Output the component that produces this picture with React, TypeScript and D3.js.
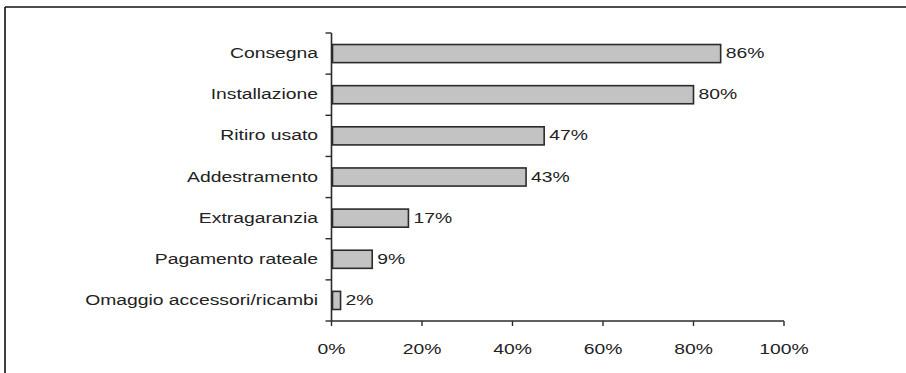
import React from "react";
import * as d3 from "d3";

const categories = [
  "Consegna",
  "Installazione",
  "Ritiro usato",
  "Addestramento",
  "Extragaranzia",
  "Pagamento rateale",
  "Omaggio accessori/ricambi",
];
const values = [86, 80, 47, 43, 17, 9, 2];
const xTicks = [0, 20, 40, 60, 80, 100];

const W = 906;
const H = 373;
const SX = 1.38;
const FONT = "'Liberation Sans', Arial, Helvetica, sans-serif";
const FS = 14;

function T({ x, y, anchor, children }: { x: number; y: number; anchor: string; children: React.ReactNode }) {
  return (
    <text
      transform={`translate(${x},${y}) scale(${SX},1)`}
      textAnchor={anchor}
      dominantBaseline="central"
      fontFamily={FONT}
      fontSize={FS}
      fill="#222"
    >
      {children}
    </text>
  );
}

export default function App() {
  const x = d3.scaleLinear().domain([0, 100]).range([331.5, 784]);
  const y = d3
    .scaleBand<string>()
    .domain(categories)
    .range([33, 321])
    .paddingInner(0.56)
    .paddingOuter(0.28);
  const step = y.step();
  const y0 = 33;
  const y1 = 321;
  const boundaries = d3.range(categories.length + 1).map((i) => y0 + i * step);

  return (
    <svg
      width={W}
      height={H}
      style={{ position: "absolute", left: 0, top: 0, background: "#fff" }}
    >
      {/* frame */}
      <line x1={5} y1={7} x2={W} y2={7} stroke="#111" strokeWidth={1.6} />
      <line x1={5} y1={7} x2={5} y2={H} stroke="#111" strokeWidth={1.6} />

      {/* bars */}
      {categories.map((c, i) => (
        <g key={c}>
          <rect
            x={x(0) + 1}
            y={y(c)!}
            width={Math.max(0, x(values[i]) - x(0) - 1)}
            height={y.bandwidth()}
            fill="#c3c3c3"
            stroke="#2b2b2b"
            strokeWidth={1.6}
          />
          <T x={x(values[i]) + 5} y={y(c)! + y.bandwidth() / 2} anchor="start">
            {values[i]}%
          </T>
          <T x={318} y={y(c)! + y.bandwidth() / 2} anchor="end">
            {c}
          </T>
        </g>
      ))}

      {/* y axis */}
      <line x1={x(0)} y1={y0} x2={x(0)} y2={y1} stroke="#2b2b2b" strokeWidth={1.6} />
      {boundaries.map((b, i) => (
        <line key={i} x1={x(0) - 6} y1={b} x2={x(0)} y2={b} stroke="#2b2b2b" strokeWidth={1.4} />
      ))}

      {/* x axis */}
      <line x1={x(0)} y1={y1} x2={x(100)} y2={y1} stroke="#2b2b2b" strokeWidth={1.6} />
      {xTicks.map((t) => (
        <g key={t}>
          <line x1={x(t)} y1={y1} x2={x(t)} y2={y1 + 5} stroke="#2b2b2b" strokeWidth={1.4} />
          <T x={x(t)} y={349} anchor="middle">
            {t}%
          </T>
        </g>
      ))}
    </svg>
  );
}
